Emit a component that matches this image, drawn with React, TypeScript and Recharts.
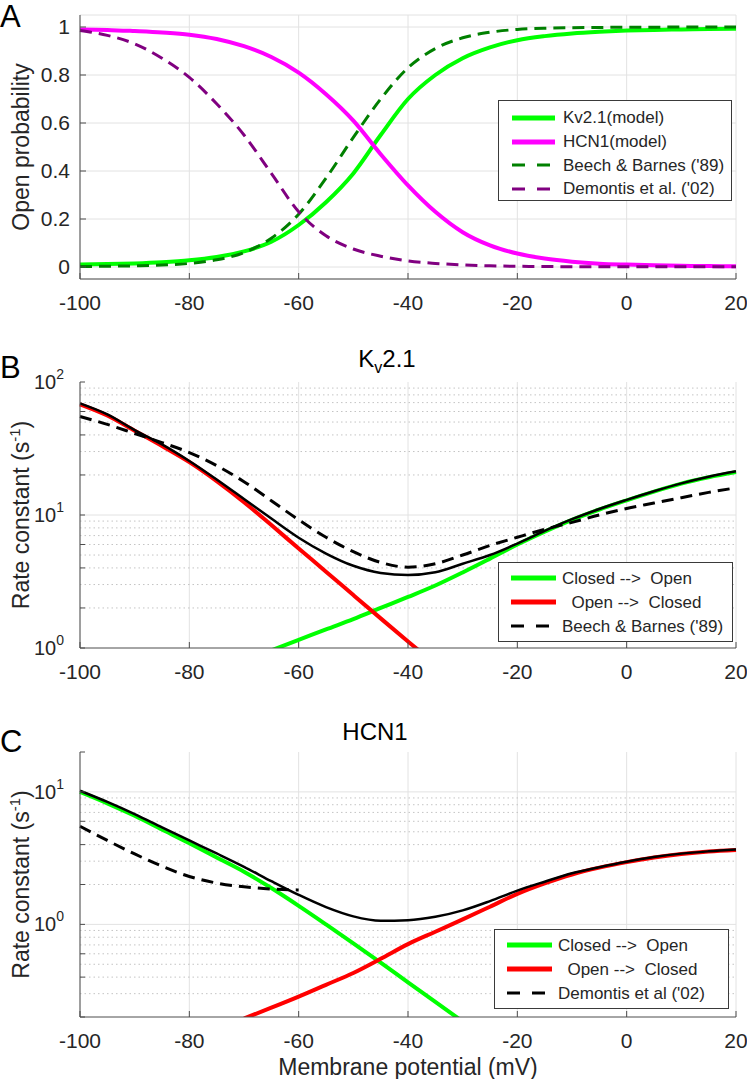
import { LineChart, Line, XAxis, YAxis, CartesianGrid, Legend, ReferenceLine } from "recharts";

const FONT = '"Liberation Sans", Arial, Helvetica, sans-serif';
const INK = "#262626";
const AXIS = "#4d4d4d";
const GRID = "#e2e2e2";
const MINOR = "#c4c4c4";

// membrane potential (mV)
const volts = [-100, -95, -90, -85, -80, -75, -70, -65, -60, -55, -50, -45, -40, -35, -30, -25, -20, -15, -10, -5, 0, 5, 10, 15, 20];

// panel A: open probability
const kvModel = [0.01, 0.012, 0.015, 0.02, 0.028, 0.042, 0.065, 0.105, 0.175, 0.27, 0.39, 0.55, 0.7, 0.8, 0.87, 0.915, 0.945, 0.962, 0.973, 0.98, 0.985, 0.988, 0.99, 0.992, 0.993];
const hcnModel = [0.99, 0.988, 0.983, 0.977, 0.968, 0.95, 0.92, 0.875, 0.81, 0.72, 0.61, 0.47, 0.34, 0.23, 0.145, 0.09, 0.056, 0.035, 0.022, 0.014, 0.01, 0.007, 0.005, 0.004, 0.003];
const beech89 = [0.002, 0.003, 0.005, 0.008, 0.015, 0.03, 0.06, 0.12, 0.22, 0.37, 0.54, 0.7, 0.83, 0.91, 0.955, 0.978, 0.99, 0.995, 0.997, 0.998, 0.999, 0.999, 1, 1, 1];
const demontis02 = [0.985, 0.965, 0.93, 0.87, 0.79, 0.68, 0.55, 0.39, 0.23, 0.13, 0.075, 0.045, 0.025, 0.015, 0.009, 0.005, 0.003, 0.002, 0.001, 0.001, 0.001, 0.001, 0.001, 0.001, 0.001];

// panel B: Kv2.1 rate constants (1/s)
const kvOpen = [null, null, null, null, null, null, null, 0.96, 1.15, 1.38, 1.65, 2.0, 2.42, 2.95, 3.7, 4.7, 6.0, 7.5, 9.2, 11.0, 12.9, 15.0, 17.2, 19.2, 21.0];
const kvClose = [68, 56, 43, 33, 25, 18, 12.5, 8.4, 5.6, 3.75, 2.5, 1.67, 1.12, 0.76, null, null, null, null, null, null, null, null, null, null, null];
const kvTotal = [69, 57, 43.5, 34, 25.5, 18.5, 13.2, 9.4, 6.75, 5.13, 4.15, 3.67, 3.54, 3.71, 4.3, 5.0, 6.1, 7.6, 9.3, 11.1, 13.0, 15.1, 17.3, 19.4, 21.3];
const kvBeech = [55, 48, 41, 35, 29.5, 23.5, 17.8, 12.8, 9.2, 6.8, 5.3, 4.4, 4.05, 4.3, 5.0, 5.9, 6.8, 7.8, 8.8, 10.0, 11.2, 12.3, 13.5, 14.8, 16.0];

// panel C: HCN1 rate constants (1/s)
const hcnOpen = [10.0, 8.2, 6.6, 5.2, 4.1, 3.2, 2.5, 1.88, 1.38, 1.0, 0.72, 0.515, 0.365, 0.26, 0.185, null, null, null, null, null, null, null, null, null, null];
const hcnClose = [null, null, null, null, null, null, 0.195, 0.235, 0.285, 0.35, 0.43, 0.55, 0.71, 0.88, 1.09, 1.36, 1.7, 2.04, 2.38, 2.68, 2.95, 3.2, 3.4, 3.55, 3.65];
const hcnTotal = [10.2, 8.4, 6.8, 5.4, 4.3, 3.43, 2.72, 2.12, 1.67, 1.35, 1.15, 1.065, 1.075, 1.14, 1.275, 1.5, 1.8, 2.1, 2.43, 2.7, 2.97, 3.22, 3.42, 3.56, 3.67];
const hcnDemontis = [5.5, 4.3, 3.4, 2.75, 2.3, 2.05, 1.92, 1.85, 1.82, null, null, null, null, null, null, null, null, null, null, null, null, null, null, null, null];

const xTicks = [-100, -80, -60, -40, -20, 0, 20];
const probTicks = [0, 0.2, 0.4, 0.6, 0.8, 1];
const kvRateTicks = [1, 2, 3, 4, 5, 6, 7, 8, 9, 10, 20, 30, 40, 50, 60, 70, 80, 90, 100];
const hcnRateTicks = [0.2, 0.3, 0.4, 0.5, 0.6, 0.7, 0.8, 0.9, 1, 2, 3, 4, 5, 6, 7, 8, 9, 10, 20];

const legendA = ["Kv2.1(model)", "HCN1(model)", "Beech & Barnes ('89)", "Demontis et al. ('02)"];
const legendB = ["Closed -->  Open", "  Open -->  Closed", "Beech & Barnes ('89)"];
const legendC = ["Closed -->  Open", "  Open -->  Closed", "Demontis et al ('02)"];

const dataA = volts.map((v, i) => ({ v, kv: kvModel[i], hcn: hcnModel[i], beech: beech89[i], demontis: demontis02[i] }));
const dataB = volts.map((v, i) => ({ v, open: kvOpen[i], close: kvClose[i], total: kvTotal[i], beech: kvBeech[i] }));
const dataC = volts.map((v, i) => ({ v, open: hcnOpen[i], close: hcnClose[i], total: hcnTotal[i], demontis: hcnDemontis[i] }));

const isDecade = (v: number) => Math.abs(Math.log10(v) - Math.round(Math.log10(v))) < 1e-9;

function LogTick(props: any) {
  const { x, y, payload } = props;
  if (!isDecade(payload.value)) return <g />;
  return (
    <text x={x} y={y + 7} textAnchor="end" fill={INK} fontSize={20} fontFamily={FONT}>
      <tspan>10</tspan>
      <tspan dy={-10} fontSize={14}>{Math.round(Math.log10(payload.value))}</tspan>
    </text>
  );
}

const yLabel = (sup: boolean, text: string) => (props: any) => {
  const vb = props.viewBox || { y: 0, height: 0 };
  const cy = vb.y + vb.height / 2;
  const bx = 29;
  return (
    <text transform={`rotate(-90 ${bx} ${cy})`} x={bx} y={cy} textAnchor="middle" fill={INK} fontSize={23} fontFamily={FONT}>
      {sup ? (
        <>
          <tspan>Rate constant (s</tspan>
          <tspan dy={-9} fontSize={15}>-1</tspan>
          <tspan dy={9}>)</tspan>
        </>
      ) : (
        text
      )}
    </text>
  );
};

const xLabel = (props: any) => {
  const vb = props.viewBox || { x: 0, y: 0, width: 0 };
  return (
    <text x={vb.x + vb.width / 2} y={vb.y + 58} textAnchor="middle" fill={INK} fontSize={23} fontFamily={FONT}>
      Membrane potential (mV)
    </text>
  );
};

const makeLegend = (order: string[], cfg: { w: number; h: number; padTop: number; padLeft: number; rowH: number; swatch: number; gap: number }) => (props: any) => {
  const items = (props.payload || [])
    .filter((p: any) => order.includes(p.value))
    .sort((a: any, b: any) => order.indexOf(a.value) - order.indexOf(b.value));
  return (
    <div
      style={{
        width: cfg.w,
        height: cfg.h,
        boxSizing: "border-box",
        border: "1px solid #3a3a3a",
        background: "#fff",
        paddingTop: cfg.padTop,
        paddingLeft: cfg.padLeft,
        fontFamily: FONT,
        fontSize: 17,
        color: INK,
      }}
    >
      {items.map((it: any) => {
        const dashed = !!(it.payload && it.payload.strokeDasharray);
        return (
          <div key={it.value} style={{ display: "flex", alignItems: "center", height: cfg.rowH }}>
            <svg width={cfg.swatch} height={8} style={{ display: "block" }}>
              <line x1={0} x2={cfg.swatch} y1={4} y2={4} stroke={it.color} strokeWidth={dashed ? 3 : 5} strokeDasharray={dashed ? "13 12" : undefined} />
            </svg>
            <span style={{ marginLeft: cfg.gap, whiteSpace: "pre", lineHeight: 1 }}>{it.value}</span>
          </div>
        );
      })}
    </div>
  );
};

const tickStyle = { fill: INK, fontSize: 21, fontFamily: FONT };

function PanelA() {
  return (
    <LineChart width={747} height={320} data={dataA} margin={{ top: 15, right: 11, bottom: 0, left: 0 }}>
      <CartesianGrid stroke={GRID} />
      <XAxis dataKey="v" type="number" domain={[-100, 20]} ticks={xTicks} height={41} tick={tickStyle} tickSize={-6} tickMargin={22} stroke={AXIS} />
      <YAxis type="number" domain={[-0.05, 1.05]} ticks={probTicks} width={80} tick={tickStyle} tickSize={-6} tickMargin={16} stroke={AXIS} label={{ content: yLabel(false, "Open probability") }} />
      <Line type="monotone" dataKey="kv" name={legendA[0]} stroke="#00ff00" strokeWidth={4} dot={false} activeDot={false} isAnimationActive={false} />
      <Line type="monotone" dataKey="hcn" name={legendA[1]} stroke="#ff00ff" strokeWidth={4} dot={false} activeDot={false} isAnimationActive={false} />
      <Line type="monotone" dataKey="beech" name={legendA[2]} stroke="#008000" strokeWidth={3} strokeDasharray="12 7" dot={false} activeDot={false} isAnimationActive={false} />
      <Line type="monotone" dataKey="demontis" name={legendA[3]} stroke="#800080" strokeWidth={3} strokeDasharray="12 7" dot={false} activeDot={false} isAnimationActive={false} />
      <Legend
        layout="vertical"
        align="center"
        verticalAlign="middle"
        wrapperStyle={{ left: 498, top: 100, width: 234 }}
        content={makeLegend(legendA, { w: 234, h: 101, padTop: 5, padLeft: 13, rowH: 23.7, swatch: 43, gap: 8 })}
      />
    </LineChart>
  );
}

function RatePanel(p: {
  data: any[];
  height: number;
  bottom: number;
  domain: [number, number];
  ticks: number[];
  names: string[];
  lastKey: string;
  legendTop: number;
  legendLeft: number;
  xTitle: boolean;
}) {
  return (
    <LineChart width={747} height={p.height} data={p.data} margin={{ top: 52, right: 11, bottom: 0, left: 0 }}>
      <CartesianGrid stroke={GRID} horizontal={false} />
      {p.ticks
        .filter((t) => t > p.domain[0] && t < p.domain[1])
        .map((t) =>
          isDecade(t) ? (
            <ReferenceLine key={t} y={t} stroke={GRID} strokeWidth={1} />
          ) : (
            <ReferenceLine key={t} y={t} stroke={MINOR} strokeWidth={1} strokeDasharray="1.5 3" />
          )
        )}
      <XAxis
        dataKey="v"
        type="number"
        domain={[-100, 20]}
        ticks={xTicks}
        height={p.bottom}
        tick={tickStyle}
        tickSize={-6}
        tickMargin={22}
        stroke={AXIS}
        label={p.xTitle ? { content: xLabel } : undefined}
      />
      <XAxis xAxisId="top" orientation="top" dataKey="v" type="number" domain={[-100, 20]} ticks={xTicks} height={0} tick={false} tickSize={-6} stroke={AXIS} />
      <YAxis
        type="number"
        scale="log"
        domain={p.domain}
        allowDataOverflow
        ticks={p.ticks}
        width={80}
        tick={<LogTick />}
        tickSize={-5}
        tickMargin={21}
        stroke={AXIS}
        label={{ content: yLabel(true, "") }}
      />
      <YAxis yAxisId="r" orientation="right" type="number" scale="log" domain={p.domain} allowDataOverflow ticks={p.ticks} width={0} tick={false} tickSize={-5} stroke={AXIS} />
      <Line type="monotone" dataKey="open" name={p.names[0]} stroke="#00ff00" strokeWidth={4} dot={false} activeDot={false} isAnimationActive={false} />
      <Line type="monotone" dataKey="close" name={p.names[1]} stroke="#ff0000" strokeWidth={4} dot={false} activeDot={false} isAnimationActive={false} />
      <Line type="monotone" dataKey={p.lastKey} name={p.names[2]} stroke="#000" strokeWidth={3} strokeDasharray="12 7" dot={false} activeDot={false} isAnimationActive={false} />
      <Line type="monotone" dataKey="total" name="total" legendType="none" stroke="#000" strokeWidth={2.5} dot={false} activeDot={false} isAnimationActive={false} />
      <Legend
        layout="vertical"
        align="center"
        verticalAlign="middle"
        wrapperStyle={{ left: p.legendLeft, top: p.legendTop, width: 235 }}
        content={makeLegend(p.names, { w: 235, h: 80, padTop: 3, padLeft: 12, rowH: 24, swatch: 45, gap: 6 })}
      />
    </LineChart>
  );
}

const letter = (t: string, top: number, size: number) => (
  <div style={{ position: "absolute", left: 0, top, fontSize: size, lineHeight: `${size}px`, fontFamily: FONT, color: "#000" }}>{t}</div>
);

export default function App() {
  return (
    <div style={{ position: "absolute", left: 0, top: 0, width: 747, height: 1079, background: "#fff", fontFamily: FONT }}>
      <div style={{ position: "absolute", left: 0, top: 0 }}>
        <PanelA />
      </div>
      <div style={{ position: "absolute", left: 0, top: 330 }}>
        <RatePanel data={dataB} height={360} bottom={42} domain={[1, 100]} ticks={kvRateTicks} names={legendB} lastKey="beech" legendTop={232} legendLeft={498} xTitle={false} />
      </div>
      <div style={{ position: "absolute", left: 0, top: 700 }}>
        <RatePanel data={dataC} height={379} bottom={62} domain={[0.2, 20]} ticks={hcnRateTicks} names={legendC} lastKey="demontis" legendTop={229} legendLeft={494} xTitle={true} />
      </div>
      {letter("A", 1, 31)}
      {letter("B", 352, 31)}
      {letter("C", 726, 31)}
      <div style={{ position: "absolute", left: 287, top: 347, width: 200, textAlign: "center", fontSize: 24, lineHeight: "24px", color: "#000", whiteSpace: "nowrap" }}>
        K<span style={{ fontSize: 16, position: "relative", top: 6 }}>v</span>2.1
      </div>
      <div style={{ position: "absolute", left: 275, top: 720, width: 200, textAlign: "center", fontSize: 24, lineHeight: "24px", color: "#000", whiteSpace: "nowrap" }}>
        HCN1
      </div>
    </div>
  );
}
